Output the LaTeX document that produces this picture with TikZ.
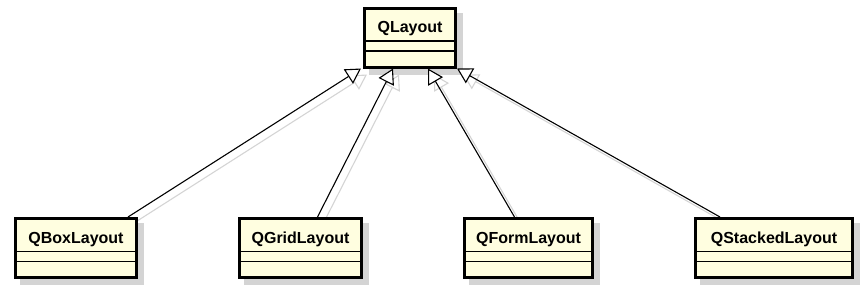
\documentclass[tikz,border=0pt]{standalone}
\usepackage{fontspec}
\setmainfont{Liberation Sans}
\usepackage{tikz}
\usepackage{xcolor}
\usetikzlibrary{arrows.meta, positioning, backgrounds}
\definecolor{cClass}{RGB}{255,254,224}
\definecolor{cShadow}{RGB}{212,212,212}
\definecolor{cLineShadow}{RGB}{212,212,212}
\tikzset{
    umlclass/.style={rectangle, draw=black, line width=3pt, fill=cClass, minimum height=59pt, text height=12pt, text depth=22pt, inner xsep=4pt, font=\bfseries\fontsize{16}{19}\selectfont,
        path picture={
            \draw[line width=1.2pt] ([yshift=-33pt]path picture bounding box.north west) -- ([yshift=-33pt]path picture bounding box.north east);
            \draw[line width=1.2pt] ([yshift=-43pt]path picture bounding box.north west) -- ([yshift=-43pt]path picture bounding box.north east);
        }},
    generalization/.style={-{Triangle[length=15pt, width=17pt, fill=white]}, line width=1.1pt},
}

\begin{document}
\begin{tikzpicture}[x=1pt, y=-1pt, node distance=100pt]
                \useasboundingbox (0,0) rectangle (865,290);
                \node[umlclass, minimum width=91pt] (qlayout) at (410,37.5) {QLayout};
                \node[umlclass, minimum width=121pt] (qbox) at (76,248) {QBoxLayout};
                \node[umlclass, minimum width=122pt, right=of qbox] (qgrid) {QGridLayout};
                \node[umlclass, minimum width=128pt, right=of qgrid] (qform) {QFormLayout};
                \node[umlclass, minimum width=157pt, right=of qform] (qstacked) {QStackedLayout};
                \begin{scope}[on background layer]
                    \foreach \cls in {qlayout, qbox, qgrid, qform, qstacked}
                        \fill[cShadow] ([shift={(6pt,-6pt)}]\cls.south west) rectangle ([shift={(6pt,-6pt)}]\cls.north east);
                    \begin{scope}[transform canvas={shift={(6pt,-6pt)}}]
                        \draw[generalization, draw=cLineShadow] ([xshift=-10pt]qbox.north east) -- ([xshift=-2pt]qlayout.south west);
                        \draw[generalization, draw=cLineShadow] ([xshift=17pt]qgrid.north) -- ([xshift=30pt]qlayout.south west);
                        \draw[generalization, draw=cLineShadow] ([xshift=-14pt]qform.north) -- ([xshift=-29pt]qlayout.south east);
                        \draw[generalization, draw=cLineShadow] ([xshift=26pt]qstacked.north west) -- (qlayout.south east);
                    \end{scope}
                \end{scope}
                \draw[generalization] ([xshift=-10pt]qbox.north east) -- ([xshift=-2pt]qlayout.south west);
                \draw[generalization] ([xshift=17pt]qgrid.north) -- ([xshift=30pt]qlayout.south west);
                \draw[generalization] ([xshift=-14pt]qform.north) -- ([xshift=-29pt]qlayout.south east);
                \draw[generalization] ([xshift=26pt]qstacked.north west) -- (qlayout.south east);
            \end{tikzpicture}
\end{document}
